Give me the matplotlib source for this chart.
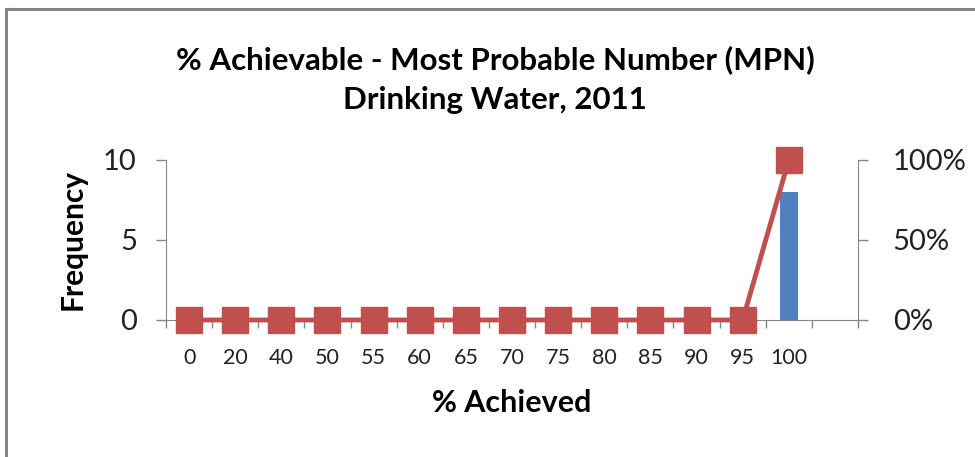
import matplotlib
matplotlib.use("Agg")
import matplotlib.pyplot as plt
from matplotlib.lines import Line2D
import numpy as np

categories = ["0", "20", "40", "50", "55", "60", "65", "70", "75", "80", "85", "90", "95", "100", ""]
frequency = [0, 0, 0, 0, 0, 0, 0, 0, 0, 0, 0, 0, 0, 8, 0]
cumulative_pct = [0, 0, 0, 0, 0, 0, 0, 0, 0, 0, 0, 0, 0, 100]

FONT = ["Lato", "DejaVu Sans"]
plt.rcParams['font.family'] = FONT

W, H = 975, 457
fig = plt.figure(figsize=(W / 100, H / 100), dpi=100)

# outer chart border (top and left visible)
gray = "#868686"
fig.add_artist(Line2D([5.5 / W, 5.5 / W], [0, 1 - 9 / H], transform=fig.transFigure, color=gray, lw=2.2))
fig.add_artist(Line2D([5.5 / W, 1.0], [1 - 9 / H, 1 - 9 / H], transform=fig.transFigure, color=gray, lw=2.2))

left, right = 166 / W, 858 / W
bottom, top = 1 - 320 / H, 1 - 160 / H
ax = fig.add_axes([left, bottom, right - left, top - bottom])
ax2 = ax.twinx()

x = np.arange(len(categories))
ax.bar(x, frequency, width=0.4, color="#4F81BD", zorder=2)
ax2.plot(x[:len(cumulative_pct)], cumulative_pct, color="#C0504D", lw=3.5,
         marker="s", markersize=19, markerfacecolor="#C0504D", markeredgecolor="#C0504D",
         clip_on=False, zorder=3)

ax.set_xlim(-0.5, len(categories) - 0.5)
ax.set_ylim(0, 10)
ax2.set_ylim(0, 100)
ax.set_yticks([0, 5, 10])
ax2.set_yticks([0, 50, 100])
ax2.set_yticklabels(["0%", "50%", "100%"])

ax.set_xticks(np.arange(-0.5, len(categories), 1.0))
ax.set_xticklabels([])
ax.set_xticks(x, minor=True)
ax.set_xticklabels(categories, minor=True)
ax.tick_params(axis="x", which="major", direction="out", length=6, color=gray, width=1)
ax.tick_params(axis="x", which="minor", length=0, labelsize=15.5, pad=20, colors="#222222")
ax.tick_params(axis="y", direction="out", length=7, color=gray, width=1, labelsize=21, pad=14, labelcolor="#222222")
ax2.tick_params(axis="y", direction="out", length=7, color=gray, width=1, labelsize=21, pad=18, labelcolor="#222222")

for a in (ax, ax2):
    a.spines["top"].set_visible(False)
    a.spines["left"].set_color(gray)
    a.spines["right"].set_color(gray)
    a.spines["bottom"].set_color(gray)
ax.spines["right"].set_visible(False)
ax2.spines["left"].set_visible(False)
ax2.spines["bottom"].set_visible(False)

ax.set_ylabel("Frequency", fontsize=21.5, fontweight="bold", labelpad=12)
ax.set_xlabel("% Achieved", fontsize=22, fontweight="bold", labelpad=15)

fig.text(495 / W, 1 - 60 / H, "% Achievable - Most Probable Number (MPN)", ha="center", va="center",
         fontsize=22.5, fontweight="bold")
fig.text(495 / W, 1 - 100 / H, "Drinking Water, 2011", ha="center", va="center",
         fontsize=22.5, fontweight="bold")

fig.savefig("out.png", dpi=100, facecolor="white")
